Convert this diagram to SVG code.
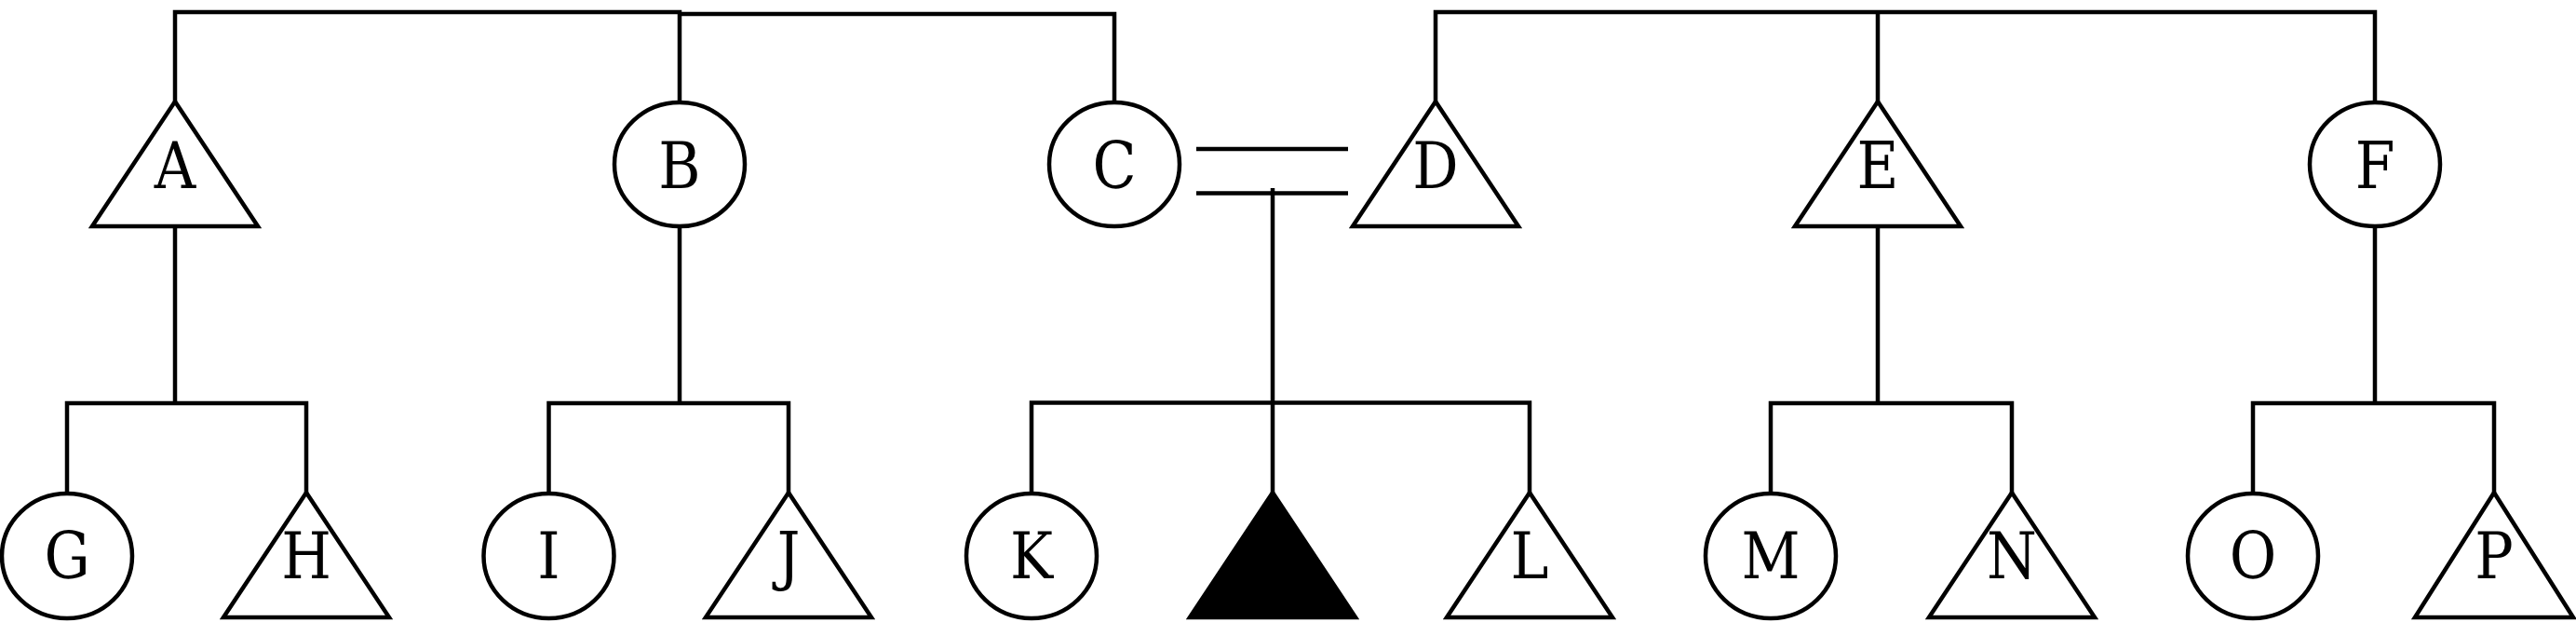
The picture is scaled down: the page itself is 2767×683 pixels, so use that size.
<svg xmlns="http://www.w3.org/2000/svg" width="2767" height="683" viewBox="0 0 2767 683">
<defs>
<style>
.s{fill:#fff;stroke:#000;stroke-width:4.5}
.f{fill:#000;stroke:#000;stroke-width:4.5}
.c{fill:none;stroke:#000;stroke-width:4.5}
.t{font-family:"DejaVu Serif",serif;font-size:70px;text-anchor:middle;fill:#000}
</style>
</defs>
<rect width="2767" height="683" fill="#fff"/>
<g id="connectors">
<path class="c" d="M188 109V13H730V110"/>
<path class="c" d="M730 15H1197V110"/>
<path class="c" d="M1542 109V13H2551V110M2017 13V109"/>
<path class="c" d="M1285 160H1448M1285 207.5H1448"/>
<path class="c" d="M1367 202V529M1108 529V432.5H1643V529"/>
<path class="c" d="M188 243V433M72 529V433H329V529"/>
<path class="c" d="M730 243V433M589.5 529V433H847V529"/>
<path class="c" d="M2017 243V433M1902 529V433H2161V529"/>
<path class="c" d="M2551 243V433M2420 529V433H2679V529"/>
</g>
<g id="A"><polygon class="s" points="188,109 277,243 99,243"/><text class="t" transform="translate(188 202) scale(0.88 1)">A</text></g>
<g id="B"><ellipse class="s" cx="730" cy="176.5" rx="70" ry="66.5"/><text class="t" transform="translate(730 202) scale(0.88 1)">B</text></g>
<g id="C"><ellipse class="s" cx="1197" cy="176.5" rx="70" ry="66.5"/><text class="t" transform="translate(1197 202) scale(0.88 1)">C</text></g>
<g id="D"><polygon class="s" points="1542,109 1631,243 1453,243"/><text class="t" transform="translate(1542 202) scale(0.88 1)">D</text></g>
<g id="E"><polygon class="s" points="2017,109 2106,243 1928,243"/><text class="t" transform="translate(2017 202) scale(0.88 1)">E</text></g>
<g id="F"><ellipse class="s" cx="2551" cy="176.5" rx="70" ry="66.5"/><text class="t" transform="translate(2551 202) scale(0.88 1)">F</text></g>
<g id="G"><ellipse class="s" cx="72" cy="597" rx="70" ry="67"/><text class="t" transform="translate(72 621) scale(0.88 1)">G</text></g>
<g id="H"><polygon class="s" points="329,529 418,663 240,663"/><text class="t" transform="translate(329 621) scale(0.88 1)">H</text></g>
<g id="I"><ellipse class="s" cx="589.5" cy="597" rx="70" ry="67"/><text class="t" transform="translate(589.5 621) scale(0.88 1)">I</text></g>
<g id="J"><polygon class="s" points="847,529 936,663 758,663"/><text class="t" transform="translate(847 621) scale(0.88 1)">J</text></g>
<g id="K"><ellipse class="s" cx="1108" cy="597" rx="70" ry="67"/><text class="t" transform="translate(1108 621) scale(0.88 1)">K</text></g>
<g id="X"><polygon class="f" points="1367,529 1456,663 1278,663"/></g>
<g id="L"><polygon class="s" points="1643,529 1732,663 1554,663"/><text class="t" transform="translate(1643 621) scale(0.88 1)">L</text></g>
<g id="M"><ellipse class="s" cx="1902" cy="597" rx="70" ry="67"/><text class="t" transform="translate(1902 621) scale(0.88 1)">M</text></g>
<g id="N"><polygon class="s" points="2161,529 2250,663 2072,663"/><text class="t" transform="translate(2161 621) scale(0.88 1)">N</text></g>
<g id="O"><ellipse class="s" cx="2420" cy="597" rx="70" ry="67"/><text class="t" transform="translate(2420 621) scale(0.88 1)">O</text></g>
<g id="P"><polygon class="s" points="2679,529 2764,663 2594,663"/><text class="t" transform="translate(2679 621) scale(0.88 1)">P</text></g>
</svg>
